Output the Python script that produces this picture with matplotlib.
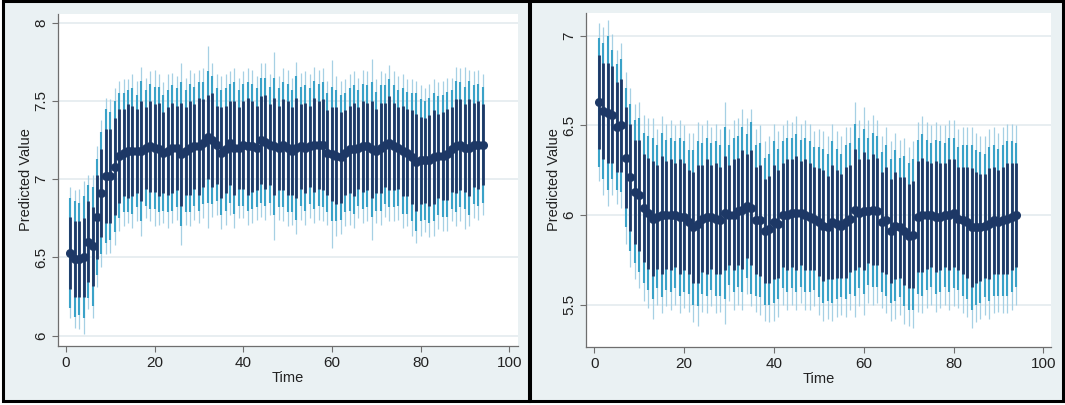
import matplotlib
matplotlib.use("Agg")
import matplotlib.pyplot as plt
from matplotlib.patches import Rectangle
import numpy as np

plt.rcParams['font.family'] = ['Liberation Sans', 'DejaVu Sans']

time = list(range(1, 95))

# ---------------- left panel ----------------
center_left = [6.53, 6.49, 6.49, 6.50, 6.60, 6.57, 6.76, 6.91, 7.02, 7.02,
               7.08, 7.15, 7.17, 7.18, 7.18, 7.18, 7.18, 7.20, 7.21, 7.20,
               7.19, 7.17, 7.18, 7.20, 7.20, 7.16, 7.18, 7.20, 7.21, 7.21,
               7.23, 7.27, 7.25, 7.22, 7.17, 7.19, 7.23, 7.20, 7.20, 7.22,
               7.21, 7.21, 7.20, 7.25, 7.24, 7.22, 7.21, 7.20, 7.22, 7.20,
               7.18, 7.20, 7.21, 7.20, 7.21, 7.22, 7.22, 7.22, 7.17, 7.16,
               7.15, 7.14, 7.17, 7.19, 7.19, 7.20, 7.21, 7.21, 7.19, 7.18,
               7.20, 7.22, 7.23, 7.21, 7.20, 7.18, 7.17, 7.14, 7.11, 7.12,
               7.12, 7.12, 7.14, 7.15, 7.15, 7.16, 7.19, 7.21, 7.22, 7.20,
               7.20, 7.22, 7.22, 7.22]
inner_left = [0.23, 0.24, 0.24, 0.25, 0.26, 0.25, 0.27, 0.28, 0.30, 0.30,
              0.31, 0.30, 0.28, 0.30, 0.29, 0.27, 0.32, 0.26, 0.29, 0.28,
              0.30, 0.26, 0.28, 0.29, 0.27, 0.33, 0.28, 0.30, 0.27, 0.31,
              0.28, 0.27, 0.30, 0.25, 0.29, 0.28, 0.27, 0.30, 0.26, 0.28,
              0.31, 0.29, 0.27, 0.28, 0.30, 0.26, 0.31, 0.27, 0.29, 0.30,
              0.28, 0.32, 0.27, 0.29, 0.26, 0.30, 0.28, 0.29, 0.27, 0.30,
              0.31, 0.29, 0.27, 0.28, 0.30, 0.26, 0.29, 0.28, 0.31, 0.27,
              0.29, 0.27, 0.30, 0.28, 0.26, 0.29, 0.28, 0.30, 0.31, 0.28,
              0.27, 0.29, 0.30, 0.27, 0.28, 0.29, 0.27, 0.30, 0.29, 0.28,
              0.31, 0.27, 0.28, 0.26]
middle_left = [0.35, 0.37, 0.36, 0.39, 0.36, 0.38, 0.37, 0.39, 0.43, 0.41,
               0.42, 0.40, 0.38, 0.39, 0.40, 0.36, 0.45, 0.37, 0.40, 0.39,
               0.40, 0.37, 0.39, 0.40, 0.38, 0.46, 0.39, 0.41, 0.38, 0.41,
               0.39, 0.42, 0.41, 0.36, 0.40, 0.39, 0.38, 0.42, 0.37, 0.39,
               0.41, 0.40, 0.38, 0.40, 0.41, 0.37, 0.44, 0.38, 0.40, 0.41,
               0.39, 0.46, 0.38, 0.40, 0.37, 0.41, 0.39, 0.40, 0.38, 0.43,
               0.42, 0.40, 0.38, 0.39, 0.41, 0.37, 0.40, 0.39, 0.43, 0.38,
               0.40, 0.38, 0.41, 0.39, 0.37, 0.40, 0.39, 0.41, 0.44, 0.39,
               0.38, 0.40, 0.41, 0.38, 0.39, 0.40, 0.38, 0.42, 0.40, 0.39,
               0.43, 0.38, 0.39, 0.37]
outer_left = [0.42, 0.44, 0.45, 0.49, 0.43, 0.46, 0.45, 0.47, 0.50, 0.49,
              0.50, 0.48, 0.47, 0.46, 0.49, 0.45, 0.54, 0.45, 0.48, 0.50,
              0.48, 0.45, 0.49, 0.48, 0.46, 0.58, 0.47, 0.50, 0.47, 0.49,
              0.48, 0.58, 0.49, 0.45, 0.49, 0.48, 0.46, 0.51, 0.45, 0.47,
              0.50, 0.49, 0.46, 0.49, 0.50, 0.45, 0.60, 0.46, 0.49, 0.50,
              0.47, 0.55, 0.47, 0.49, 0.46, 0.50, 0.48, 0.49, 0.46, 0.60,
              0.51, 0.49, 0.47, 0.48, 0.50, 0.45, 0.49, 0.48, 0.58, 0.46,
              0.49, 0.46, 0.50, 0.48, 0.46, 0.49, 0.47, 0.50, 0.52, 0.48,
              0.46, 0.49, 0.50, 0.47, 0.48, 0.49, 0.46, 0.51, 0.49, 0.52,
              0.50, 0.47, 0.48, 0.45]

# ---------------- right panel ----------------
center_right = [6.63, 6.58, 6.57, 6.56, 6.49, 6.50, 6.32, 6.21, 6.13, 6.11,
                6.04, 6.01, 5.98, 5.99, 6.00, 6.00, 6.00, 6.00, 5.99, 5.99,
                5.96, 5.93, 5.95, 5.98, 5.99, 5.99, 5.98, 5.97, 6.01, 6.00,
                6.00, 6.02, 6.03, 6.05, 6.04, 5.97, 5.97, 5.91, 5.92, 5.96,
                5.95, 6.00, 6.00, 6.01, 6.01, 6.01, 6.00, 5.99, 5.98, 5.96,
                5.94, 5.93, 5.96, 5.95, 5.94, 5.96, 5.98, 6.03, 6.01, 6.02,
                6.02, 6.03, 6.02, 5.96, 5.97, 5.91, 5.94, 5.93, 5.91, 5.88,
                5.89, 5.99, 6.00, 6.00, 6.00, 5.99, 5.99, 6.00, 6.00, 6.01,
                5.98, 5.97, 5.96, 5.93, 5.93, 5.93, 5.94, 5.95, 5.97, 5.96,
                5.97, 5.98, 5.99, 6.00]
inner_right = [0.26, 0.27, 0.28, 0.27, 0.25, 0.26, 0.28, 0.30, 0.29, 0.31,
               0.30, 0.31, 0.32, 0.29, 0.33, 0.30, 0.31, 0.29, 0.32, 0.30,
               0.29, 0.31, 0.33, 0.30, 0.32, 0.29, 0.31, 0.30, 0.32, 0.28,
               0.31, 0.30, 0.33, 0.29, 0.32, 0.30, 0.31, 0.29, 0.30, 0.32,
               0.30, 0.29, 0.31, 0.30, 0.32, 0.29, 0.31, 0.30, 0.29, 0.30,
               0.31, 0.29, 0.32, 0.30, 0.29, 0.31, 0.30, 0.34, 0.30, 0.33,
               0.29, 0.31, 0.30, 0.28, 0.30, 0.29, 0.30, 0.28, 0.30, 0.29,
               0.30, 0.31, 0.32, 0.30, 0.29, 0.31, 0.30, 0.29, 0.31, 0.30,
               0.29, 0.30, 0.31, 0.33, 0.31, 0.30, 0.29, 0.31, 0.30, 0.29,
               0.30, 0.31, 0.30, 0.29]
middle_right = [0.36, 0.38, 0.43, 0.36, 0.35, 0.37, 0.39, 0.41, 0.40, 0.43,
                0.42, 0.43, 0.45, 0.40, 0.46, 0.42, 0.43, 0.41, 0.44, 0.42,
                0.40, 0.43, 0.46, 0.42, 0.44, 0.41, 0.43, 0.42, 0.48, 0.39,
                0.43, 0.42, 0.46, 0.40, 0.48, 0.42, 0.43, 0.41, 0.42, 0.45,
                0.42, 0.41, 0.43, 0.42, 0.44, 0.41, 0.43, 0.42, 0.40, 0.42,
                0.43, 0.41, 0.45, 0.42, 0.40, 0.43, 0.42, 0.48, 0.42, 0.46,
                0.41, 0.43, 0.42, 0.39, 0.42, 0.40, 0.42, 0.39, 0.42, 0.41,
                0.42, 0.43, 0.45, 0.42, 0.40, 0.43, 0.42, 0.40, 0.43, 0.42,
                0.40, 0.42, 0.43, 0.46, 0.43, 0.42, 0.40, 0.43, 0.42, 0.41,
                0.42, 0.43, 0.42, 0.40]
outer_right = [0.44, 0.47, 0.52, 0.45, 0.43, 0.46, 0.48, 0.50, 0.49, 0.52,
               0.52, 0.53, 0.56, 0.49, 0.55, 0.51, 0.53, 0.50, 0.54, 0.51,
               0.50, 0.53, 0.57, 0.52, 0.54, 0.50, 0.53, 0.51, 0.62, 0.48,
               0.53, 0.52, 0.56, 0.49, 0.55, 0.51, 0.53, 0.50, 0.52, 0.55,
               0.52, 0.50, 0.53, 0.51, 0.54, 0.50, 0.53, 0.52, 0.49, 0.52,
               0.53, 0.51, 0.55, 0.52, 0.50, 0.53, 0.51, 0.60, 0.52, 0.58,
               0.51, 0.53, 0.51, 0.48, 0.52, 0.50, 0.52, 0.49, 0.52, 0.50,
               0.52, 0.53, 0.55, 0.52, 0.50, 0.53, 0.51, 0.50, 0.53, 0.52,
               0.50, 0.52, 0.53, 0.56, 0.53, 0.51, 0.50, 0.53, 0.52, 0.50,
               0.52, 0.53, 0.52, 0.50]

x_ticks = [0, 20, 40, 60, 80, 100]
y_ticks_left = [6, 6.5, 7, 7.5, 8]
y_tick_labels_left = ["6", "6.5", "7", "7.5", "8"]
y_ticks_right = [5.5, 6, 6.5, 7]
y_tick_labels_right = ["5.5", "6", "6.5", "7"]

NAVY = "#1d3866"
CYAN = "#3aa2c8"
LIGHT = "#a6d0e4"
PANEL_BG = "#eaf1f3"
SPINE = "#6e6e6e"

W, H = 1065, 405
fig = plt.figure(figsize=(W / 100, H / 100), dpi=100)
fig.patch.set_facecolor("white")

def px_rect(x0, y0, x1, y1):
    return [x0 / W, 1 - y1 / H, (x1 - x0) / W, (y1 - y0) / H]

# panel backgrounds / frames (drawn beneath the axes)
for (x0, x1) in [(3, 529), (530, 1063)]:
    r = px_rect(x0, 1, x1, 401)
    fig.patches.append(Rectangle((r[0], r[1]), r[2], r[3], transform=fig.transFigure,
                                 facecolor=PANEL_BG, edgecolor="black", linewidth=2.2,
                                 zorder=-5))

def draw(ax, c, inner, middle, outer, yticks, ylabels, xlim, ylim):
    t = np.array(time)
    c = np.array(c)
    ax.set_facecolor("white")
    for yv in yticks:
        ax.axhline(yv, color="#e6edf0", linewidth=1.3, zorder=0)
    ax.vlines(t, c - np.array(outer), c + np.array(outer), color=LIGHT, linewidth=0.9, zorder=2)
    ax.vlines(t, c - np.array(middle), c + np.array(middle), color=CYAN, linewidth=1.5, zorder=3)
    ax.vlines(t, c - np.array(inner), c + np.array(inner), color=NAVY, linewidth=2.0, zorder=4)
    ax.plot(t, c, linestyle="none", marker="o", markersize=5.5, color=NAVY, zorder=5)
    ax.set_xlim(*xlim)
    ax.set_ylim(*ylim)
    ax.set_xticks(x_ticks)
    ax.set_xticklabels([str(v) for v in x_ticks])
    ax.set_yticks(yticks)
    ax.set_yticklabels(ylabels, rotation=90, va="center")
    for s in ["top", "right"]:
        ax.spines[s].set_visible(False)
    for s in ["left", "bottom"]:
        ax.spines[s].set_color(SPINE)
        ax.spines[s].set_linewidth(0.9)
    ax.tick_params(direction="out", length=4, width=0.8, color=SPINE,
                   labelsize=11, labelcolor="#222222", pad=3)
    ax.set_xlabel("Time", fontsize=10.5, color="#222222", labelpad=1)
    ax.set_ylabel("Predicted Value", fontsize=10.5, color="#222222", labelpad=1)

axL = fig.add_axes(px_rect(58, 14, 518, 346))
draw(axL, center_left, inner_left, middle_left, outer_left,
     y_ticks_left, y_tick_labels_left, (-1.8, 102.0), (5.934, 8.056))

axR = fig.add_axes(px_rect(586, 13, 1051, 347))
draw(axR, center_right, inner_right, middle_right, outer_right,
     y_ticks_right, y_tick_labels_right, (-1.85, 101.7), (5.263, 7.127))

fig.savefig("out.png", dpi=100, facecolor=fig.get_facecolor())
